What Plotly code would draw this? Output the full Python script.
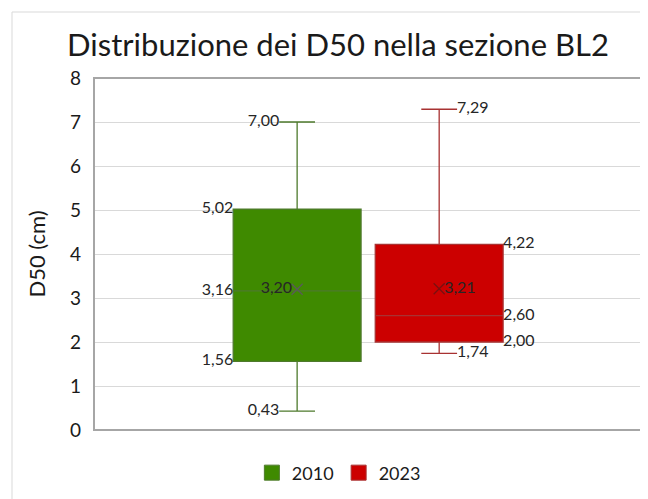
import plotly.graph_objects as go

# ---- data ----
years = ["2010", "2023"]
positions = [0, 1]
q1 = [1.56, 2.00]
medians = [3.16, 2.60]
q3 = [5.02, 4.22]
mins = [0.43, 1.74]
maxs = [7.00, 7.29]
means = [3.20, 3.21]

fill_colors = ["#3F8A00", "#CC0000"]
line_colors = ["#4E7A2C", "#A83232"]
mean_colors = ["#5A5A5A", "#7A1010"]

BOX_W = 0.9
WHISK = 0.28
FONT = "Lato"
TXT = "#262626"

fig = go.Figure()

for i in range(2):
    x = positions[i]
    fig.add_trace(go.Box(
        x=[x], q1=[q1[i]], median=[medians[i]], q3=[q3[i]],
        lowerfence=[mins[i]], upperfence=[maxs[i]],
        width=BOX_W, whiskerwidth=WHISK,
        fillcolor=fill_colors[i], line=dict(color=line_colors[i], width=1.3),
        boxpoints=False, showlegend=False, hoverinfo="skip", name=years[i],
    ))
    # mean marker
    fig.add_trace(go.Scatter(
        x=[x], y=[means[i]], mode="markers",
        marker=dict(symbol="x-thin", size=11,
                    line=dict(color=mean_colors[i], width=1.3)),
        showlegend=False, hoverinfo="skip",
    ))

    side = -1 if i == 0 else 1
    pos = "middle left" if i == 0 else "middle right"
    # box labels
    fig.add_trace(go.Scatter(
        x=[x + side * BOX_W / 2] * 3, y=[q1[i], medians[i], q3[i]],
        mode="text", texttemplate="%{y:.2f}", textposition=pos,
        textfont=dict(family=FONT, size=16, color=TXT),
        showlegend=False, hoverinfo="skip", cliponaxis=False,
    ))
    # whisker labels
    fig.add_trace(go.Scatter(
        x=[x + side * BOX_W * WHISK / 2] * 2, y=[mins[i], maxs[i]],
        mode="text", texttemplate="%{y:.2f}", textposition=pos,
        textfont=dict(family=FONT, size=16, color=TXT),
        showlegend=False, hoverinfo="skip", cliponaxis=False,
    ))
    # mean label
    fig.add_trace(go.Scatter(
        x=[x + side * 0.035], y=[means[i]],
        mode="text", texttemplate="%{y:.2f}", textposition=pos,
        textfont=dict(family=FONT, size=16, color=TXT),
        showlegend=False, hoverinfo="skip", cliponaxis=False,
    ))

# legend entries
for i in range(2):
    fig.add_trace(go.Scatter(
        x=[None], y=[None], mode="markers", name=years[i],
        marker=dict(symbol="square", size=15, color=fill_colors[i],
                    line=dict(color=line_colors[i], width=1)),
    ))

# page body has an 8px margin: figure is 8px smaller and shifted coordinates
fig.update_layout(
    width=640, height=491,
    margin=dict(l=86, r=0, t=70, b=69),
    paper_bgcolor="white", plot_bgcolor="white",
    separators=",.",
    font=dict(family=FONT, color=TXT),
    title=dict(text="Distribuzione dei D50 nella sezione BL2",
               font=dict(family=FONT, size=31, color="#1a1a1a"),
               x=330 / 640, xanchor="center", xref="container",
               y=1 - 37 / 491, yanchor="middle", yref="container"),
    xaxis=dict(range=[-1.43, 2.47], showticklabels=False, showgrid=False,
               zeroline=False, ticks=""),
    yaxis=dict(range=[0, 8], dtick=1, showgrid=True, gridcolor="#D9D9D9",
               gridwidth=1, zeroline=False, ticks="",
               ticklabelstandoff=12,
               tickfont=dict(family=FONT, size=19, color="#1a1a1a"),
               title=dict(text="D50 (cm)", standoff=18,
                          font=dict(family=FONT, size=22, color="#1a1a1a"))),
    legend=dict(orientation="h", x=0.442, xanchor="center", y=-0.122,
                yanchor="middle", font=dict(family=FONT, size=18, color="#1a1a1a"),
                itemwidth=30, tracegroupgap=0),
    shapes=[
        dict(type="rect", xref="paper", yref="paper", x0=-0.148, x1=1.2,
             y0=-0.5, y1=1 + 66 / 352, line=dict(color="#D9D9D9", width=1),
             layer="below"),
        dict(type="rect", xref="paper", yref="paper", x0=0, x1=1.05,
             y0=0, y1=1, line=dict(color="#A6A6A6", width=2), layer="above"),
    ],
)

fig.write_html("out.html")
